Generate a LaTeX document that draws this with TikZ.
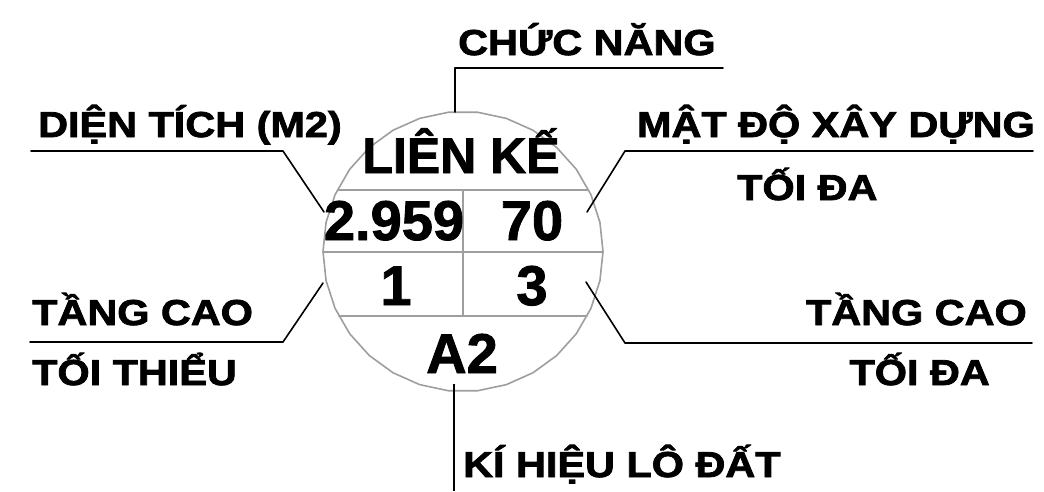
\documentclass[tikz,border=0pt]{standalone}
\usepackage{fontspec}
\newfontfamily\tagfont[FakeStretch=1.15,FakeBold=2.2]{Liberation Sans}
\newfontfamily\cellfont[FakeBold=1.6]{Liberation Sans}
\usetikzlibrary{shapes.geometric}
\tikzset{
  leader/.style={black, line width=1.6pt, line join=round},
  gridline/.style={black!38, line width=1.6pt},
  tag/.style={inner sep=0pt, font=\tagfont\bfseries\fontsize{36}{40}\selectfont},
  cell/.style={inner sep=0pt, font=\cellfont\bfseries\fontsize{56}{60}\selectfont}
}

\begin{document}
\begin{tikzpicture}[line cap=round,x=1pt,y=-1pt]
    \useasboundingbox (0,0) rectangle (1044,491);

    % Lot symbol: ring and cell lines
    \node[regular polygon, regular polygon sides=30, minimum size=280pt, inner sep=0pt, gridline, draw] (lot) at (463,251.5) {};
    \draw[gridline] (338,190) -- (588,190);
    \draw[gridline] (323,252) -- (603,252);
    \draw[gridline] (339,316) -- (587,316);
    \draw[gridline] (463,190) -- (463,316);

    % Values in the cells
    \node[cell, font=\cellfont\bfseries\fontsize{50}{56}\selectfont, anchor=base] (use) at (461,173) {LIÊN KẾ};
    \node[cell, anchor=base] (area-val) at (394,240) {2.959};
    \node[cell, anchor=base] (dens-val) at (532,240) {70};
    \node[cell, anchor=base] (flmin-val) at (396,305) {1};
    \node[cell, anchor=base] (flmax-val) at (532,305) {3};
    \node[cell, anchor=base] (code-val) at (462,373) {A2};

    % Labels
    \node[tag, anchor=base west] (func) at (458,55) {CHỨC NĂNG};
    \node[tag, anchor=base west] (area) at (38,137) {DIỆN TÍCH (M2)};
    \node[tag, anchor=base east] (dens) at (1035,137) {MẬT ĐỘ XÂY DỰNG};
    \node[tag, anchor=base west] (dens2) at (737,200) {TỐI ĐA};
    \node[tag, anchor=base west] (flmin) at (32,325) {TẦNG CAO};
    \node[tag, anchor=base west] (flmin2) at (32,385) {TỐI THIỂU};
    \node[tag, anchor=base east] (flmax) at (1027,325) {TẦNG CAO};
    \node[tag, anchor=base east] (flmax2) at (990,385) {TỐI ĐA};
    \node[tag, anchor=base west] (code) at (463,477) {KÍ HIỆU LÔ ĐẤT};

    % Leader points
    \coordinate (func-a) at (723,68);   \coordinate (func-b) at (455,68);   \coordinate (func-c) at (455,112);
    \coordinate (area-a) at (31,151);   \coordinate (area-b) at (283,151);  \coordinate (area-c) at (324,212);
    \coordinate (dens-a) at (1033,151); \coordinate (dens-b) at (625,151);  \coordinate (dens-c) at (587,212);
    \coordinate (flmin-a) at (30,342);  \coordinate (flmin-b) at (283,342); \coordinate (flmin-c) at (323,283);
    \coordinate (flmax-a) at (1032,343);\coordinate (flmax-b) at (625,343); \coordinate (flmax-c) at (586,282);
    \coordinate (code-a) at (454,384);  \coordinate (code-b) at (454,491);

    % Leaders
    \foreach \one/\two/\three in {func-a/func-b/func-c, area-a/area-b/area-c, dens-a/dens-b/dens-c, flmin-a/flmin-b/flmin-c, flmax-a/flmax-b/flmax-c} {
            \draw[leader] (\one) -- (\two) -- (\three);
        }
    \draw[leader, line cap=butt] (code-a) -- (code-b);
\end{tikzpicture}
\end{document}
